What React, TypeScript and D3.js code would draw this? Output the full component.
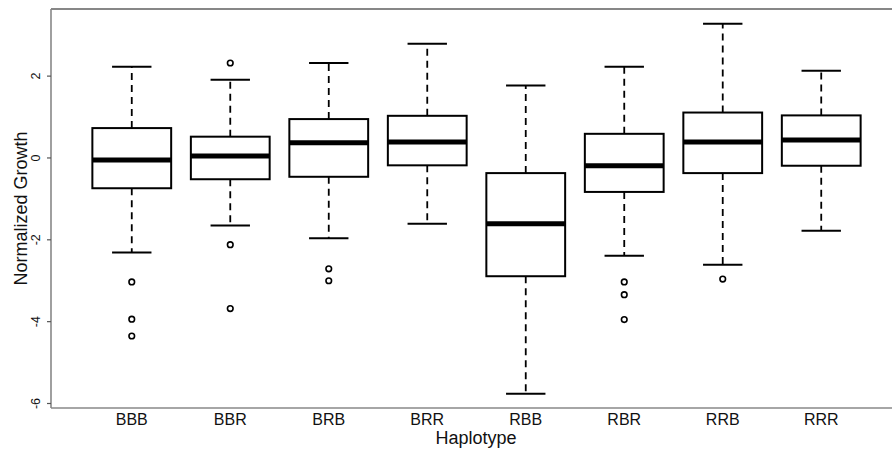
import React from 'react'
import * as d3 from 'd3'

// haplotype groups and their box statistics
const categories = ['BBB', 'BBR', 'BRB', 'BRR', 'RBB', 'RBR', 'RRB', 'RRR']
const whiskerHigh = [2.23, 1.91, 2.32, 2.79, 1.77, 2.23, 3.28, 2.13]
const upperQuartile = [0.73, 0.52, 0.95, 1.03, -0.37, 0.59, 1.11, 1.04]
const medians = [-0.05, 0.05, 0.37, 0.39, -1.61, -0.19, 0.39, 0.44]
const lowerQuartile = [-0.74, -0.52, -0.46, -0.18, -2.89, -0.83, -0.37, -0.19]
const whiskerLow = [-2.31, -1.65, -1.96, -1.61, -5.76, -2.39, -2.61, -1.78]
const outliers = [
  [-3.03, -3.94, -4.35],
  [2.32, -2.12, -3.68],
  [-2.71, -3.0],
  [],
  [],
  [-3.03, -3.34, -3.95],
  [-2.96],
  [],
]
const yTicks = [-6, -4, -2, 0, 2]

const font = '"Liberation Sans", Arial, Helvetica, sans-serif'

export default function App() {
  const width = 892,
    height = 450

  // plot region like R's: groups at 1..n, extended 4% each side
  const left = 51,
    top = 9,
    bottom = 408

  const x = d3.scaleLinear().domain([0.18, 8.82]).range([left, 902])
  const y = d3.scaleLinear().domain([-6.11, 3.64]).range([bottom, top])

  const step = x(2) - x(1)
  const boxW = step * 0.8
  const capW = boxW / 2

  const boxes = categories.map((c, i) => {
    const cx = x(i + 1)
    return (
      <g key={c}>
        {/* whiskers */}
        <line x1={cx} x2={cx} y1={y(upperQuartile[i])} y2={y(whiskerHigh[i])} stroke="#000" strokeWidth={1.8} strokeDasharray="7,5" />
        <line x1={cx} x2={cx} y1={y(lowerQuartile[i])} y2={y(whiskerLow[i])} stroke="#000" strokeWidth={1.8} strokeDasharray="7,5" />
        <line x1={cx - capW / 2} x2={cx + capW / 2} y1={y(whiskerHigh[i])} y2={y(whiskerHigh[i])} stroke="#000" strokeWidth={2} />
        <line x1={cx - capW / 2} x2={cx + capW / 2} y1={y(whiskerLow[i])} y2={y(whiskerLow[i])} stroke="#000" strokeWidth={2} />
        {/* box */}
        <rect
          x={cx - boxW / 2}
          y={y(upperQuartile[i])}
          width={boxW}
          height={y(lowerQuartile[i]) - y(upperQuartile[i])}
          fill="#fff"
          stroke="#000"
          strokeWidth={2}
        />
        <line x1={cx - boxW / 2} x2={cx + boxW / 2} y1={y(medians[i])} y2={y(medians[i])} stroke="#000" strokeWidth={5} />
        {outliers[i].map((v, j) => (
          <circle key={j} cx={cx} cy={y(v)} r={2.8} fill="none" stroke="#000" strokeWidth={1.6} />
        ))}
        <text x={cx} y={424.5} textAnchor="middle" fontSize={16} fill="#111">
          {c}
        </text>
      </g>
    )
  })

  const yLabels = yTicks.map(t => (
    <g key={t}>
      <line x1={left - 4} x2={left} y1={y(t)} y2={y(t)} stroke="#555" strokeWidth={1.2} />
      <text transform={`translate(40, ${y(t)}) rotate(-90)`} textAnchor="middle" fontSize={12.5} fill="#111">
        {t}
      </text>
    </g>
  ))

  return (
    <svg width={width} height={height} style={{ position: 'absolute', left: 0, top: 0, background: '#fff' }} fontFamily={font}>
      <rect width={width} height={height} fill="#fff" />
      <line x1={left} x2={width} y1={top} y2={top} stroke="#111" strokeWidth={1.2} />
      {boxes}
      <line x1={left} x2={left} y1={top} y2={bottom} stroke="#888" strokeWidth={1.6} />
      <line x1={left} x2={width} y1={bottom} y2={bottom} stroke="#888" strokeWidth={1.6} />
      {yLabels}
      <text x={476} y={443.5} textAnchor="middle" fontSize={18} fill="#111">
        Haplotype
      </text>
      <text transform={`translate(27, ${(top + bottom) / 2}) rotate(-90)`} textAnchor="middle" fontSize={18} fill="#111">
        Normalized Growth
      </text>
    </svg>
  )
}
